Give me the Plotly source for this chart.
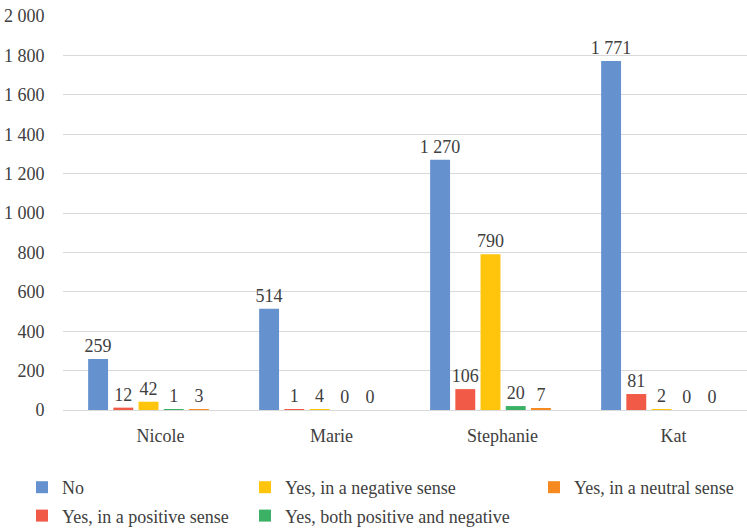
import plotly.graph_objects as go

# Categories and series values
people = ["Nicole", "Marie", "Stephanie", "Kat"]
no_vals = [259, 514, 1270, 1771]
positive_vals = [12, 1, 106, 81]
negative_vals = [42, 4, 790, 2]
both_vals = [1, 0, 20, 0]
neutral_vals = [3, 0, 7, 0]

y_ticks = [0, 200, 400, 600, 800, 1000, 1200, 1400, 1600, 1800, 2000]

FONT = "Liberation Serif"
FS = 18
TEXT_COLOR = "#404040"
W, H = 747, 529

# (name, values, colour, legend id, legend rank)
series = [
    ("No", no_vals, "#6592CF", "legend", 1),
    ("Yes, in a positive sense", positive_vals, "#F15A46", "legend", 2),
    ("Yes, in a negative sense", negative_vals, "#FFC50D", "legend2", 1),
    ("Yes, both positive and negative", both_vals, "#3BB166", "legend2", 2),
    ("Yes, in a neutral sense", neutral_vals, "#F68A20", "legend3", 1),
]

fig = go.Figure()
for i, (name, vals, color, leg, rank) in enumerate(series):
    fig.add_trace(go.Bar(
        name=name,
        x=people,
        y=vals,
        marker=dict(color=color, line=dict(width=0)),
        text=vals,
        texttemplate="%{y:,}",
        textposition="outside",
        constraintext="none",
        textfont=dict(family=FONT, size=FS, color=TEXT_COLOR),
        cliponaxis=False,
        legend=leg,
        legendrank=rank,
        legendgroup=f"g{i}",
    ))

legend_common = dict(
    orientation="v",
    xref="container",
    yref="container",
    xanchor="left",
    yanchor="top",
    font=dict(family=FONT, size=FS, color=TEXT_COLOR),
    bgcolor="rgba(0,0,0,0)",
    tracegroupgap=2,
    itemclick=False,
)

fig.update_layout(
    width=W,
    height=H,
    barmode="group",
    bargap=0.263,
    bargroupgap=0.21,
    separators=". ",
    plot_bgcolor="white",
    paper_bgcolor="white",
    margin=dict(l=63, r=0, t=16, b=119, autoexpand=False),
    font=dict(family=FONT, size=FS, color=TEXT_COLOR),
    xaxis=dict(
        type="category",
        showgrid=False,
        showline=False,
        zeroline=False,
        tickfont=dict(family=FONT, size=FS, color=TEXT_COLOR),
        ticks="outside",
        ticklen=9,
        tickcolor="rgba(0,0,0,0)",
        ticklabelshift=12,
    ),
    yaxis=dict(
        range=[0, 2000],
        tickvals=y_ticks,
        tickformat=",",
        showgrid=True,
        gridcolor="#D9D9D9",
        gridwidth=1,
        zeroline=True,
        zerolinecolor="#D9D9D9",
        zerolinewidth=1,
        showline=False,
        tickfont=dict(family=FONT, size=FS, color=TEXT_COLOR),
        ticks="outside",
        ticklen=14,
        tickcolor="rgba(0,0,0,0)",
    ),
    legend=dict(x=22 / W, y=1 - 469 / H, **legend_common),
    legend2=dict(x=245 / W, y=1 - 469 / H, **legend_common),
    legend3=dict(x=534 / W, y=1 - 469 / H, **legend_common),
)

fig.write_html("out.html")
